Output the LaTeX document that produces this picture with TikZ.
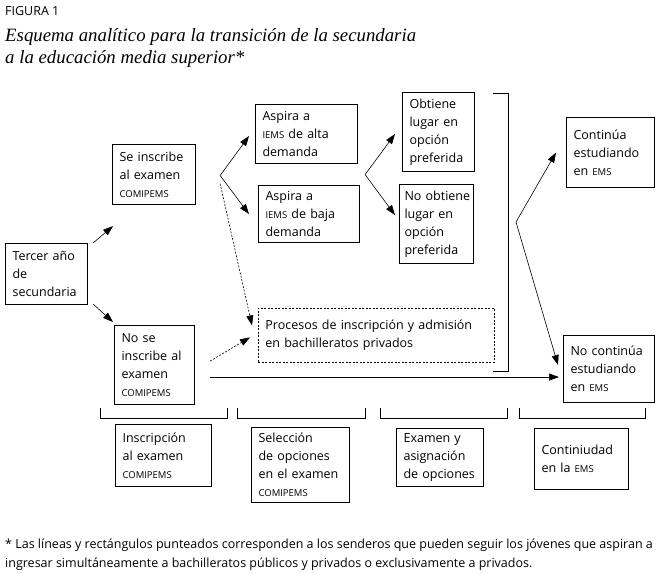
\documentclass[tikz,border=0pt]{standalone}
\usepackage{fontspec}
\setmainfont{Open Sans}
\newfontfamily\titlefont{Liberation Serif}
\usetikzlibrary{arrows.meta,calc}
\newcommand{\sca}[1]{{\fontsize{9.5pt}{18pt}\selectfont #1}}
\begin{document}
\begin{tikzpicture}[x=1pt,y=-1pt,
  every node/.style={inner sep=0pt},
  box/.style={draw,line width=1.1pt,align=left,anchor=north west,inner xsep=7pt,inner ysep=2pt,font=\fontsize{12.5pt}{18pt}\selectfont},
  dbox/.style={box,line width=0.8pt,dash pattern=on 2pt off 1.5pt},
  arr/.style={-{Triangle[length=10pt,width=7pt]},line width=0.6pt},
  darr/.style={arr,dash pattern=on 2pt off 1.5pt},
  brk/.style={line width=0.9pt}]
\useasboundingbox (0,0) rectangle (661,573);
% heading
\node[anchor=base west,font=\fontsize{12.5pt}{14pt}\selectfont] (fig) at (5,15) {FIGURA 1};
\node[anchor=base west,align=left,font=\titlefont\itshape\fontsize{18.8pt}{22pt}\selectfont] (title) at (5,63)
  {Esquema analítico para la transición de la secundaria\\a la educación media superior*};
% boxes
\node[box,text width=68pt,minimum height=61pt] (tercer) at (5,243) {Tercer~año\\de\\secundaria};
\node[box,text width=69pt,minimum height=60pt] (seins) at (112,144) {Se~inscribe\\al~examen\\\sca{COMIPEMS}};
\node[box,text width=66pt,minimum height=79pt] (noins) at (114,325) {No~se\\inscribe~al\\examen\\\sca{COMIPEMS}};
\node[box,text width=88pt,minimum height=59pt] (alta) at (255,104) {Aspira~a\\\sca{IEMS}~de~alta\\demanda};
\node[box,text width=87pt,minimum height=57pt] (baja) at (258,185) {Aspira~a\\\sca{IEMS}~de~baja\\demanda};
\node[box,text width=58pt,minimum height=79pt] (obt) at (402,92) {Obtiene\\lugar~en\\opción\\preferida};
\node[box,inner xsep=5pt,text width=64pt,minimum height=79pt] (noobt) at (399,184) {\mbox{No obtiene}\\lugar~en\\opción\\preferida};
\node[dbox,text width=222pt,minimum height=54pt] (priv) at (258,308) {Procesos de inscripción y admisión\\en bachilleratos privados};
\node[box,text width=74pt,minimum height=70pt] (cont) at (566,117) {Continúa\\estudiando\\en~\sca{EMS}};
\node[box,text width=77pt,minimum height=67pt] (nocont) at (563,335) {No~continúa\\estudiando\\en~\sca{EMS}};
% stages
\node[box,text width=82pt,minimum height=62pt] (insc) at (115,424) {Inscripción\\al~examen\\\sca{COMIPEMS}};
\node[box,text width=84pt,minimum height=75pt] (sel) at (251,427) {Selección\\de~opciones\\en~el~examen\\\sca{COMIPEMS}};
\node[box,text width=73pt,minimum height=58pt] (exa) at (396,428) {Examen~y\\asignación\\de~opciones};
\node[box,text width=80pt,minimum height=61pt] (cont2) at (534,428) {Continiudad\\en~la~\sca{EMS}};
% forks
\coordinate (sfork) at ($(seins.east)+(24,1)$);
\coordinate (afork) at ($(alta.south east)!0.5!(baja.north east)+(6,0)$);
\coordinate (rfork) at (516,222);
% connectors
\draw[arr] ($(tercer.north east)+(5,0)$) -- ($(seins.south west)+(1,21)$);
\draw[arr] ($(tercer.south east)+(5,-1)$) -- ($(noins.north west)+(-1,-3)$);
\draw[arr] (sfork) -- ($(alta.west)+(-6,2)$);
\draw[arr] (sfork) -- ($(baja.west)+(-9,0)$);
\draw[arr] (afork) -- ($(obt.west)+(-7,2)$);
\draw[arr] (afork) -- ($(noobt.west)+(-4,-9)$);
\draw[arr] (rfork) -- ($(cont.west)+(-10,0)$);
\draw[arr] (rfork) -- ($(nocont.west)+(-5,-4)$);
\draw[arr] ($(noins.east)+(15,12)$) -- ($(nocont.west)+(-4,8)$);
\draw[darr] ($(seins.east)+(24,9)$) -- ($(priv.west)+(-6,-10)$);
\draw[darr] ($(noins.east)+(15,-4)$) -- ($(priv.west)+(-8,2)$);
% brackets
\draw[brk] (493,93) -| (508,371) -- (493,371);
\foreach \a/\b in {100/227,237/365,380/507,519/645}
  \draw[brk] (\a,408) |- (\b,418) -- (\b,408);
% note
\node[anchor=base west,align=left,font=\fontsize{12.5pt}{19pt}\selectfont] (note) at (5,567)
  {* Las líneas y rectángulos punteados corresponden a los senderos que pueden seguir los jóvenes que aspiran a\\ingresar simultáneamente a bachilleratos públicos y privados o exclusivamente a privados.};
\end{tikzpicture}
\end{document}
